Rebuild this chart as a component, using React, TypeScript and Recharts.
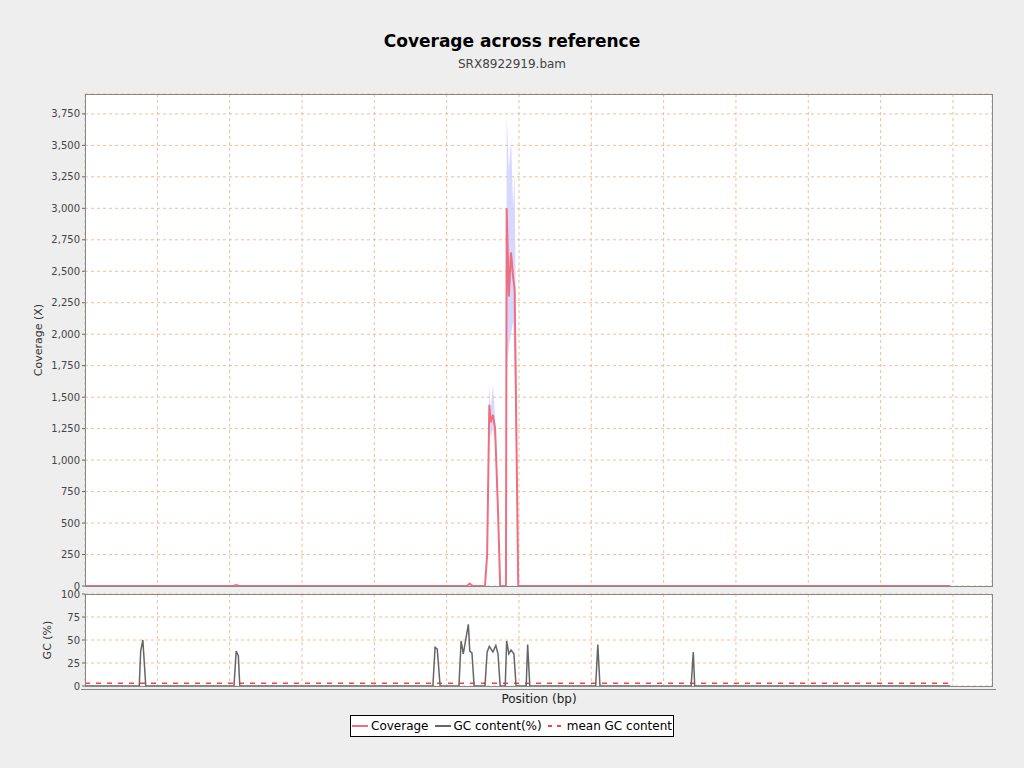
import React from 'react';
import { ComposedChart, LineChart, Line, Area, XAxis, YAxis, CartesianGrid, ReferenceLine } from 'recharts';

// positions are in plot units (domain 0..1254)
const covPos = [0, 205, 209, 213, 528, 532, 536, 553, 556, 559, 561, 564, 567, 571, 574, 582, 583, 586, 589, 592, 594, 599, 1196];
const covVal = [0, 0, 8, 0, 0, 20, 0, 0, 250, 1440, 1300, 1360, 1250, 600, 0, 0, 3000, 2300, 2650, 2450, 2350, 0, 0];
const covLo = [0, 0, 8, 0, 0, 20, 0, 0, 250, 1300, 1180, 1250, 1150, 500, 0, 0, 1700, 1900, 2000, 2100, 1700, 0, 0];
const covHi = [0, 0, 8, 0, 0, 20, 0, 0, 250, 1600, 1400, 1600, 1350, 700, 0, 0, 3750, 3300, 3550, 3000, 3300, 0, 0];

const gcPos = [0, 75, 77, 80, 84, 206, 209, 212, 214, 481, 484, 487, 491, 517, 520, 523, 530, 532, 535, 538,
  553, 556, 559, 564, 568, 571, 574, 581, 583, 586, 589, 593, 596, 610, 612, 615, 706, 709, 712, 838, 841, 843, 1196];
const gcVal = [0, 0, 38, 50, 0, 0, 38, 33, 0, 0, 42, 40, 0, 0, 49, 35, 67, 38, 36, 0,
  0, 37, 43, 37, 44, 35, 0, 0, 49, 35, 39, 35, 0, 0, 45, 0, 0, 45, 0, 0, 37, 0, 0];
const meanGc = 3;

const covTicks = [0, 250, 500, 750, 1000, 1250, 1500, 1750, 2000, 2250, 2500, 2750, 3000, 3250, 3500, 3750];
const gcTicks = [0, 25, 50, 75, 100];
const xTicks = [100, 200, 300, 400, 500, 600, 700, 800, 900, 1000, 1100, 1200];

const covData = covPos.map((p, i) => ({ pos: p, cov: covVal[i], band: [covLo[i], covHi[i]] }));
const gcData = gcPos.map((p, i) => ({ pos: p, gc: gcVal[i] }));

const font = 'DejaVu Sans, sans-serif';
const gridColor = '#eebf98';
const tick = { fontSize: 10, fill: '#444', fontFamily: font };

const App: React.FC = () => (
  <div style={{ position: 'absolute', left: 0, top: 0, width: 1024, height: 768, background: '#eeeeee', fontFamily: font }}>
    <div style={{ position: 'absolute', top: 31, width: 1024, textAlign: 'center', fontSize: 17, fontWeight: 'bold' }}>Coverage across reference</div>
    <div style={{ position: 'absolute', top: 57, width: 1024, textAlign: 'center', fontSize: 12, color: '#444' }}>SRX8922919.bam</div>
    <div style={{ position: 'absolute', left: 85, top: 94, width: 907, height: 492, background: '#fff' }} />
    <div style={{ position: 'absolute', left: 85, top: 594, width: 907, height: 92, background: '#fff' }} />
    <div style={{ position: 'absolute', left: 38, top: 340, transform: 'translate(-50%,-50%) rotate(-90deg)', fontSize: 11, color: '#333', whiteSpace: 'nowrap' }}>Coverage (X)</div>
    <div style={{ position: 'absolute', left: 47, top: 640, transform: 'translate(-50%,-50%) rotate(-90deg)', fontSize: 11, color: '#333', whiteSpace: 'nowrap' }}>GC (%)</div>
    <div style={{ position: 'absolute', top: 692, width: 1078, textAlign: 'center', fontSize: 12, color: '#222' }}>Position (bp)</div>

    <div style={{ position: 'absolute', left: 0, top: 0 }}>
      <ComposedChart width={1024} height={600} data={covData} margin={{ top: 94, right: 32, bottom: 14, left: 25 }}>
        <CartesianGrid stroke={gridColor} strokeDasharray="3 3" />
        <XAxis dataKey="pos" type="number" domain={[0, 1254]} ticks={xTicks} hide />
        <YAxis domain={[0, 3908]} ticks={covTicks} width={60} tick={tick} tickSize={3} axisLine={false}
          tickFormatter={(v: number) => v.toLocaleString('en-US')} allowDataOverflow />
        <Area dataKey="band" type="linear" stroke="none" fill="#c8c8ff" fillOpacity={0.7} isAnimationActive={false} />
        <Line dataKey="cov" type="linear" stroke="#ee7080" strokeWidth={2} dot={false} isAnimationActive={false} />
      </ComposedChart>
    </div>
    <div style={{ position: 'absolute', left: 0, top: 580 }}>
      <LineChart width={1024} height={120} data={gcData} margin={{ top: 14, right: 32, bottom: 14, left: 25 }}>
        <CartesianGrid stroke={gridColor} strokeDasharray="3 3" />
        <XAxis dataKey="pos" type="number" domain={[0, 1254]} ticks={xTicks} hide />
        <YAxis domain={[0, 100]} ticks={gcTicks} width={60} tick={tick} tickSize={3} axisLine={false} />
        <ReferenceLine segment={[{ x: 0, y: meanGc }, { x: 1196, y: meanGc }]} stroke="#ff4040" strokeDasharray="5 6" strokeWidth={1.5} />
        <Line dataKey="gc" type="linear" stroke="#666" strokeWidth={1.5} dot={false} isAnimationActive={false} />
      </LineChart>
    </div>
    <div style={{ position: 'absolute', left: 85, top: 94, width: 906, height: 491, border: '1px solid #888' }} />
    <div style={{ position: 'absolute', left: 85, top: 594, width: 906, height: 91, border: '1px solid #888' }} />
    <div style={{ position: 'absolute', left: 81, top: 689, width: 915, height: 1, background: '#888' }} />

    <div style={{ position: 'absolute', left: 350, top: 715, width: 322, height: 20, border: '1px solid #000', background: '#fff', fontSize: 12, display: 'flex', alignItems: 'center', justifyContent: 'center', gap: 3, whiteSpace: 'nowrap' }}>
      <span style={{ display: 'inline-block', width: 16, height: 2, background: '#ee7080' }} /><span>Coverage</span>
      <span style={{ display: 'inline-block', width: 16, height: 2, background: '#666', marginLeft: 3 }} /><span>GC content(%)</span>
      <span style={{ display: 'inline-block', width: 16, height: 2, marginLeft: 3, background: 'repeating-linear-gradient(90deg,#ff4040 0 4px,transparent 4px 9px)' }} /><span>mean GC content</span>
    </div>
  </div>
);

export default App;
